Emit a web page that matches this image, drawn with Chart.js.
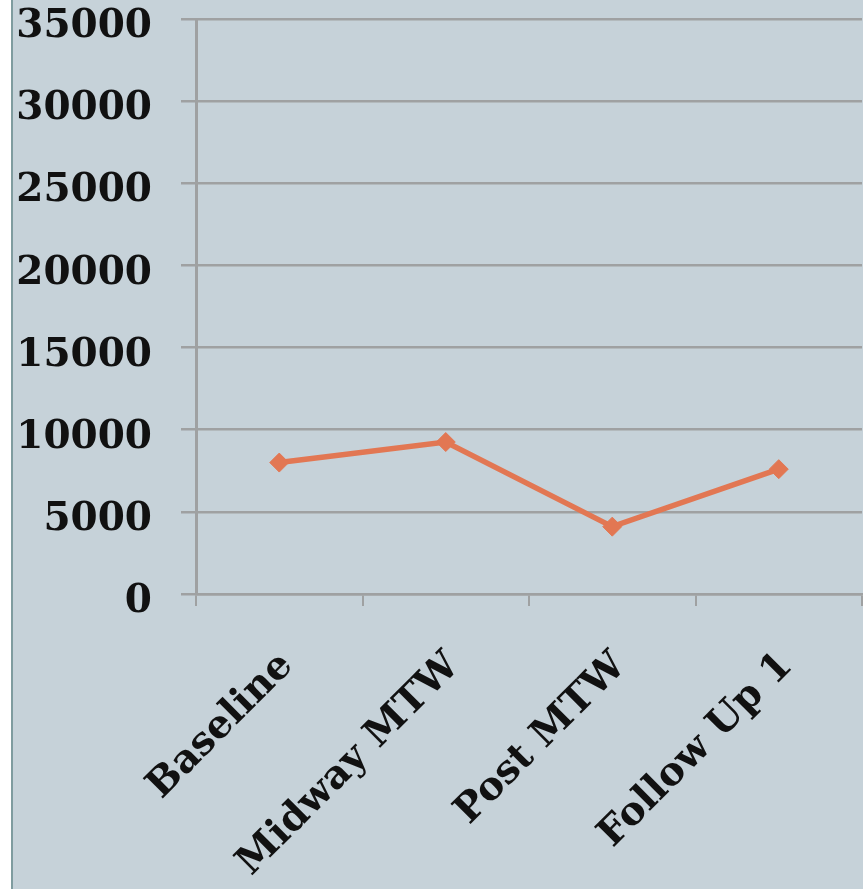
<!DOCTYPE html>
<html>
<head>
<meta charset="utf-8">
<script src="https://cdn.jsdelivr.net/npm/chart.js@4"></script>
<style>
  html, body { margin: 0; padding: 0; background: #ffffff; }
  #wrap { position: absolute; left: 11px; top: 0; width: 850px; height: 889px;
          border-left: 2px solid #7f9c9f; background: #c6d2d9; }
  #c { display: block; }
</style>
</head>
<body>
<div id="wrap"><canvas id="c" width="850" height="889"></canvas></div>
<script>
const categories = ["Baseline", "Midway MTW", "Post MTW", "Follow Up 1"];
const seriesValues = [8000, 9250, 4100, 7600];
const yTicks = [0, 5000, 10000, 15000, 20000, 25000, 30000, 35000];

const gridColor = '#9fa1a2';
const fontFamily = '"DejaVu Serif", "Liberation Serif", serif';

new Chart(document.getElementById('c'), {
  type: 'line',
  data: {
    labels: categories,
    datasets: [{
      data: seriesValues,
      borderColor: '#e27753',
      backgroundColor: '#e27753',
      borderWidth: 5.5,
      pointStyle: 'rectRot',
      pointRadius: 9.5,
      pointHoverRadius: 9.5,
      pointBorderWidth: 1,
      tension: 0,
      fill: false
    }]
  },
  options: {
    responsive: false,
    animation: false,
    devicePixelRatio: 1,
    layout: { autoPadding: false, padding: { left: 0, right: 1, top: 19, bottom: 0 } },
    plugins: { legend: { display: false }, tooltip: { enabled: false } },
    scales: {
      x: {
        type: 'category',
        offset: true,
        grid: { display: true, offset: true, drawOnChartArea: false, drawTicks: true,
                tickLength: 12, color: gridColor, lineWidth: 2 },
        border: { display: true, color: gridColor, width: 2.5 },
        ticks: {
          minRotation: 45, maxRotation: 45, autoSkip: false, padding: 40, labelOffset: 8,
          color: '#111111',
          font: { family: fontFamily, size: 39, weight: 'bold', lineHeight: 1 }
        },
        afterFit: s => { s.height = 295; s.paddingLeft = 0; s.paddingRight = 0; }
      },
      y: {
        min: 0, max: 35000,
        afterBuildTicks: s => { s.ticks = yTicks.map(v => ({ value: v })); },
        grid: { color: gridColor, lineWidth: 2.5, tickLength: 15, drawTicks: true },
        border: { display: true, color: gridColor, width: 3 },
        ticks: {
          padding: 29, labelOffset: 8,
          color: '#111111',
          font: { family: fontFamily, size: 39, weight: 'bold', lineHeight: 1 },
          callback: v => String(v)
        },
        afterFit: s => { s.width = 183; s.paddingTop = 0; s.paddingBottom = 0; }
      }
    }
  }
});
</script>
</body>
</html>
